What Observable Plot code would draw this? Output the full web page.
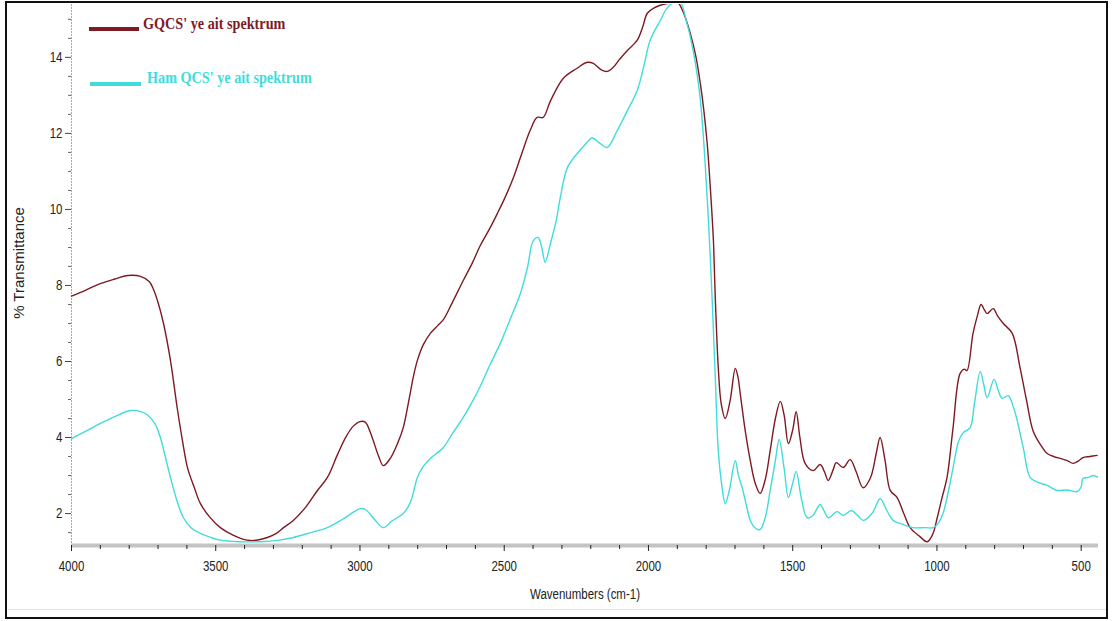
<!DOCTYPE html>
<html>
<head>
<meta charset="utf-8">
<script src="https://cdn.jsdelivr.net/npm/d3@7"></script>
<script src="https://cdn.jsdelivr.net/npm/@observablehq/plot@0.6"></script>
<style>
  body { margin: 0; background: #fff; }
  #wrap { position: relative; width: 1113px; height: 621px; overflow: hidden; background: #fff; }
  #chart { position: absolute; left: 0; top: 0; }
  #border { position: absolute; left: 5px; top: 1px; width: 1103px; height: 618px; border: 2px solid #111; box-sizing: border-box; pointer-events: none; }
  #foot { position: absolute; left: 8px; top: 609px; width: 1098px; height: 1px; background: #e4e4e4; }
  .leg { position: absolute; font-family: "Liberation Serif", "Times New Roman", serif; font-weight: bold; font-size: 17px; white-space: nowrap; line-height: 1; transform: scaleX(0.835); transform-origin: left center; }
  .legline { position: absolute; height: 4px; }
  .axlab { position: absolute; white-space: nowrap; color: #222; }
</style>
</head>
<body>
<div id="wrap">
  <div id="chart"></div>
  <div id="foot"></div>
  <div id="border"></div>
  <div class="legline" id="l1" style="left:89px; top:27px; width:50px;"></div>
  <div class="leg" id="t1" style="left:143px; top:15px;"></div>
  <div class="legline" id="l2" style="left:90px; top:82px; width:51px;"></div>
  <div class="leg" id="t2" style="left:147px; top:69px;"></div>
  <div class="axlab" id="ylab" style="font-family:'Liberation Sans',Arial,sans-serif; font-size:15px; left:18px; top:263px; transform: translate(-50%,-50%) rotate(-90deg);"></div>
  <div class="axlab" id="xlab" style="font-family:'Liberation Sans',Arial,sans-serif; font-size:14px; left:585px; top:586px; transform: translateX(-50%) scaleX(0.82);"></div>
</div>
<script>
// ---- Series names / colours / labels ----
const seriesNames = ["GQCS' ye ait spektrum", "Ham QCS' ye ait spektrum"];
const seriesColors = ["#7e1a22", "#3fdcdc"];
const xLabel = "Wavenumbers (cm-1)";
const yLabel = "% Transmittance";

// ---- Axis settings ----
const xDomain = [4000, 440];
const yDomain = [1.16, 15.39];
const xMajorTicks = [4000, 3500, 3000, 2500, 2000, 1500, 1000, 500];
const xMinorTicks = [3900,3800,3700,3600,3400,3300,3200,3100,2900,2800,2700,2600,2400,2300,2200,2100,1900,1800,1700,1600,1400,1300,1200,1100,900,800,700,600];
const yMajorTicks = [2, 4, 6, 8, 10, 12, 14];
const yMinorTicks = [1.5,2.5,3,3.5,4.5,5,5.5,6.5,7,7.5,8.5,9,9.5,10.5,11,11.5,12.5,13,13.5,14.5,15];

// ---- GQCS spectrum (dark red) ----
const gqcsWave = [4000,3950,3900,3850,3806,3761,3730,3716,3700,3681,3657,3633,3615,3598,3575,3553,3520,3484,3440,3404,3380,3350,3321,3290,3265,3231,3190,3148,3113,3078,3050,3023,3000,2981,2965,2954,2935,2919,2895,2870,2850,2835,2825,2815,2801,2780,2756,2730,2711,2680,2642,2610,2583,2550,2524,2495,2468,2440,2410,2386,2365,2340,2295,2250,2212,2191,2165,2143,2122,2100,2073,2039,2020,2004,1980,1959,1930,1900,1880,1855,1835,1820,1808,1796,1785,1775,1768,1758,1748,1734,1717,1699,1690,1682,1665,1647,1630,1613,1595,1578,1560,1543,1530,1515,1500,1488,1475,1457,1429,1405,1390,1377,1360,1349,1325,1301,1280,1256,1230,1210,1197,1180,1162,1138,1115,1093,1060,1034,1015,999,983,965,945,920,905,896,875,860,847,835,826,805,790,770,739,712,690,667,640,618,595,573,550,528,510,494,470,445];
const gqcsT = [7.72,7.88,8.05,8.17,8.26,8.24,8.1,7.9,7.55,7.0,6.03,4.75,3.9,3.21,2.7,2.26,1.9,1.63,1.43,1.32,1.29,1.31,1.37,1.48,1.63,1.82,2.15,2.6,2.95,3.55,4.0,4.3,4.42,4.4,4.15,3.92,3.5,3.26,3.45,3.84,4.26,4.8,5.2,5.6,6.03,6.45,6.74,6.95,7.1,7.55,8.13,8.6,9.05,9.5,9.89,10.35,10.84,11.45,12.08,12.42,12.42,12.85,13.45,13.7,13.87,13.84,13.68,13.63,13.74,13.95,14.18,14.45,14.8,15.16,15.3,15.37,15.42,15.45,15.2,14.63,14.0,13.3,12.6,11.7,10.5,9.2,7.6,5.84,4.9,4.5,4.97,5.82,5.6,5.16,4.2,3.39,2.8,2.53,2.9,3.66,4.5,4.95,4.6,3.84,4.2,4.68,4.0,3.32,3.13,3.29,3.1,2.87,3.15,3.34,3.21,3.42,3.1,2.68,2.95,3.6,4.0,3.4,2.61,2.42,2.0,1.63,1.4,1.26,1.45,1.89,2.4,2.95,4.2,5.68,5.8,5.76,6.74,7.2,7.5,7.35,7.26,7.39,7.2,7.0,6.74,5.84,5.0,4.18,3.8,3.58,3.5,3.45,3.4,3.32,3.38,3.47,3.5,3.53];

// ---- Ham QCS spectrum (cyan) ----
const hamWave = [4000,3950,3900,3850,3796,3760,3737,3710,3692,3675,3657,3635,3612,3585,3553,3520,3484,3420,3345,3280,3231,3170,3113,3060,3020,3000,2980,2950,2919,2890,2850,2825,2801,2780,2756,2711,2680,2642,2610,2583,2550,2514,2480,2444,2420,2399,2382,2370,2358,2340,2320,2306,2281,2247,2220,2195,2170,2143,2110,2073,2039,2015,1994,1959,1935,1910,1890,1870,1845,1820,1796,1779,1768,1758,1745,1734,1720,1699,1688,1675,1660,1647,1630,1613,1595,1578,1560,1547,1530,1515,1500,1488,1470,1450,1430,1405,1390,1377,1346,1325,1297,1275,1256,1225,1197,1175,1152,1120,1083,1040,1013,995,979,960,944,925,909,885,870,850,838,826,802,788,774,753,735,722,700,677,650,618,584,550,514,500,494,475,459,441];
const hamT = [3.97,4.17,4.37,4.55,4.71,4.68,4.6,4.35,4.0,3.5,2.95,2.35,1.89,1.62,1.48,1.38,1.3,1.26,1.26,1.3,1.37,1.5,1.63,1.85,2.05,2.13,2.1,1.85,1.63,1.8,2.0,2.3,2.95,3.25,3.45,3.74,4.1,4.53,4.95,5.35,5.9,6.47,7.1,7.79,8.45,9.18,9.26,9.0,8.61,9.1,9.7,10.3,11.1,11.47,11.7,11.88,11.75,11.63,12.05,12.6,13.13,13.8,14.45,14.97,15.3,15.45,15.45,15.0,14.18,12.87,10.24,7.6,5.5,3.66,2.7,2.26,2.6,3.39,3.0,2.68,2.2,1.82,1.62,1.58,1.9,2.61,3.4,3.95,3.2,2.42,2.8,3.11,2.4,1.89,1.95,2.24,2.05,1.89,2.05,1.95,2.08,1.95,1.82,2.0,2.39,2.1,1.82,1.72,1.63,1.63,1.63,1.75,2.0,2.6,3.21,3.9,4.13,4.26,4.9,5.74,5.4,5.05,5.53,5.25,5.03,5.1,4.8,4.45,3.7,2.95,2.82,2.74,2.61,2.62,2.58,2.7,2.92,2.95,3.0,2.95];

// Build tidy rows for Plot
const rows = [
  ...gqcsWave.map((w, i) => ({wave: w, t: gqcsT[i], series: seriesNames[0]})),
  ...hamWave.map((w, i) => ({wave: w, t: hamT[i], series: seriesNames[1]}))
];

const tickFont = "'Liberation Sans',Arial,sans-serif";

const chart = Plot.plot({
  width: 1113,
  height: 621,
  marginLeft: 71,
  marginRight: 15,
  marginTop: 4,
  marginBottom: 76,
  style: { background: "transparent", fontFamily: tickFont, fontSize: "14px", color: "#222" },
  x: { domain: xDomain, label: null },
  y: { domain: yDomain, label: null },
  color: { domain: seriesNames, range: seriesColors },
  marks: [
    Plot.ruleX([xDomain[0]], { stroke: "#a8a8a8", strokeWidth: 1, strokeDasharray: "2,1" }),
    Plot.ruleY([yDomain[0]], { stroke: "#c4c4c4", strokeWidth: 4 }),
    Plot.axisX({ ticks: xMinorTicks, tickSize: 4, tickFormat: () => "", label: null, stroke: "#222" }),
    Plot.axisX({ ticks: xMajorTicks, tickSize: 6, tickPadding: 10, tickFormat: d => String(d), label: null, stroke: "#222", fill: "#222" }),
    Plot.axisY({ ticks: yMinorTicks, tickSize: 3, tickFormat: () => "", label: null, stroke: "#666" }),
    Plot.axisY({ ticks: yMajorTicks, tickSize: 6, tickPadding: 3, tickFormat: d => String(d), label: null, stroke: "#444", fill: "#222" }),
    Plot.line(rows, { x: "wave", y: "t", z: "series", stroke: "series", strokeWidth: 1.4, clip: true, curve: "catmull-rom" })
  ]
});
document.getElementById("chart").appendChild(chart);

// Narrow the tick labels (the original uses a condensed sans)
chart.querySelectorAll("g[aria-label$='tick label'] text").forEach(el => {
  const tr = el.getAttribute("transform") || "";
  el.setAttribute("transform", tr + " scale(0.82,1)");
});

// Legend + axis labels as real text
document.getElementById("l1").style.background = seriesColors[0];
document.getElementById("l2").style.background = seriesColors[1];
const t1 = document.getElementById("t1"); t1.textContent = seriesNames[0]; t1.style.color = seriesColors[0];
const t2 = document.getElementById("t2"); t2.textContent = seriesNames[1]; t2.style.color = seriesColors[1];
document.getElementById("ylab").textContent = yLabel;
document.getElementById("xlab").textContent = xLabel;
</script>
</body>
</html>
